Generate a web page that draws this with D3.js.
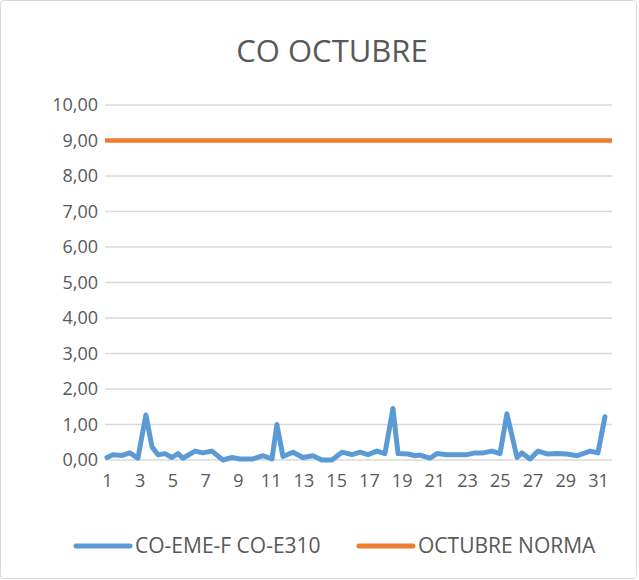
<!DOCTYPE html>
<html>
<head>
<meta charset="utf-8">
<script src="https://cdn.jsdelivr.net/npm/d3@7"></script>
<style>
  body { margin: 0; background: #fff; }
  text { font-family: "Open Sans", sans-serif; fill: #595959; }
</style>
</head>
<body>
<div id="chart"></div>
<script>
//----------------------------------
// Data
//----------------------------------
const chartTitle = "CO OCTUBRE";
const seriesNames = ["CO-EME-F CO-E310", "OCTUBRE NORMA"];

// day of month (fractional) and CO value
const coDays = [1.00, 1.37, 1.92, 2.40, 2.89, 3.38, 3.75, 4.12, 4.54, 4.97,
                5.34, 5.64, 6.38, 6.86, 7.41, 8.09, 8.64, 9.12, 9.92, 10.53,
                11.08, 11.38, 11.75, 12.36, 12.97, 13.58, 14.13, 14.74, 15.36, 15.97,
                16.46, 16.94, 17.49, 17.98, 18.47, 18.78, 19.39, 19.82, 20.12, 20.73,
                21.16, 21.77, 22.38, 22.99, 23.48, 23.97, 24.52, 25.01, 25.43, 26.05,
                26.35, 26.84, 27.33, 27.88, 28.49, 29.10, 29.71, 30.51, 30.99, 31.42];
const coValues = [0.07, 0.15, 0.13, 0.20, 0.05, 1.27, 0.37, 0.15, 0.18, 0.07,
                  0.18, 0.05, 0.25, 0.20, 0.25, 0.00, 0.07, 0.03, 0.03, 0.12,
                  0.03, 1.00, 0.10, 0.22, 0.07, 0.12, 0.00, 0.00, 0.22, 0.15,
                  0.22, 0.15, 0.25, 0.18, 1.45, 0.18, 0.17, 0.12, 0.14, 0.05,
                  0.18, 0.15, 0.15, 0.15, 0.20, 0.20, 0.25, 0.18, 1.30, 0.07,
                  0.20, 0.03, 0.25, 0.17, 0.18, 0.17, 0.12, 0.25, 0.20, 1.22];
const normaValue = 9;

const yTicks = [0, 1, 2, 3, 4, 5, 6, 7, 8, 9, 10];
const xTicks = [1, 3, 5, 7, 9, 11, 13, 15, 17, 19, 21, 23, 25, 27, 29, 31];

const colors = ["#5B9BD5", "#ED7D31"];

//----------------------------------
// SVG Section
//----------------------------------
const W = 639, H = 580;
const plot = {left: 105, right: 612, top: 105, bottom: 460};

const svg = d3.select("#chart")
    .append("svg")
    .attr("width", W)
    .attr("height", H);

// chart frame
svg.append("rect")
    .attr("x", 0.5).attr("y", 0.5)
    .attr("width", W - 3).attr("height", H - 2)
    .attr("rx", 3)
    .attr("fill", "#fff")
    .attr("stroke", "#D9D9D9");

// Scales
const xScale = d3.scaleLinear().domain([0.88, 31.85]).range([plot.left, plot.right]);
const yScale = d3.scaleLinear().domain([0, 10]).range([plot.bottom, plot.top]);

// Title
svg.append("text")
    .attr("x", 332)
    .attr("y", 62)
    .attr("text-anchor", "middle")
    .style("font-size", "31px")
    .text(chartTitle);

// Gridlines
svg.append("g")
    .selectAll("line")
    .data(yTicks)
    .join("line")
    .attr("x1", plot.left)
    .attr("x2", plot.right)
    .attr("y1", d => yScale(d))
    .attr("y2", d => yScale(d))
    .attr("stroke", "#D9D9D9")
    .attr("stroke-width", 1.5);

// Y axis labels
const fmt = d => d.toFixed(2).replace(".", ",");
const yAxis = svg.append("g")
    .attr("transform", `translate(${plot.left - 7},0)`)
    .call(d3.axisLeft(yScale).tickValues(yTicks).tickFormat(fmt).tickSize(0).tickPadding(0));
yAxis.select(".domain").remove();
yAxis.selectAll("text")
    .style("font-size", "18px")
    .style("font-family", "'Open Sans', sans-serif")
    .attr("fill", "#595959");

// X axis labels
const xAxis = svg.append("g")
    .attr("transform", `translate(0,${plot.bottom + 14})`)
    .call(d3.axisBottom(xScale).tickValues(xTicks).tickFormat(d3.format("d")).tickSize(0).tickPadding(0));
xAxis.select(".domain").remove();
xAxis.selectAll("text")
    .style("font-size", "18px")
    .style("font-family", "'Open Sans', sans-serif")
    .attr("fill", "#595959");

// Norma line spans the full category range
svg.append("path")
    .datum(xScale.domain())
    .attr("fill", "none")
    .attr("stroke", colors[1])
    .attr("stroke-width", 4.5)
    .attr("d", d3.line()
        .x(d => xScale(d))
        .y(() => yScale(normaValue)));

// CO series
const coData = coDays.map((d, i) => ({x: d, y: coValues[i]}));
svg.append("path")
    .datum(coData)
    .attr("fill", "none")
    .attr("stroke", colors[0])
    .attr("stroke-width", 5)
    .attr("stroke-linejoin", "round")
    .attr("stroke-linecap", "round")
    .attr("d", d3.line()
        .x(d => xScale(d.x))
        .y(d => yScale(d.y)));

// Legend
const legendItems = [
    {name: seriesNames[0], color: colors[0], x: 76},
    {name: seriesNames[1], color: colors[1], x: 359}
];
const legend = svg.append("g").attr("transform", "translate(0,546)");
const item = legend.selectAll("g")
    .data(legendItems)
    .join("g")
    .attr("transform", d => `translate(${d.x},0)`);
item.append("line")
    .attr("x1", 0).attr("x2", 54)
    .attr("stroke", d => d.color)
    .attr("stroke-width", 5)
    .attr("stroke-linecap", "round");
item.append("text")
    .attr("x", 59)
    .attr("dy", "0.35em")
    .style("font-size", "21px")
    .text(d => d.name);
</script>
</body>
</html>
